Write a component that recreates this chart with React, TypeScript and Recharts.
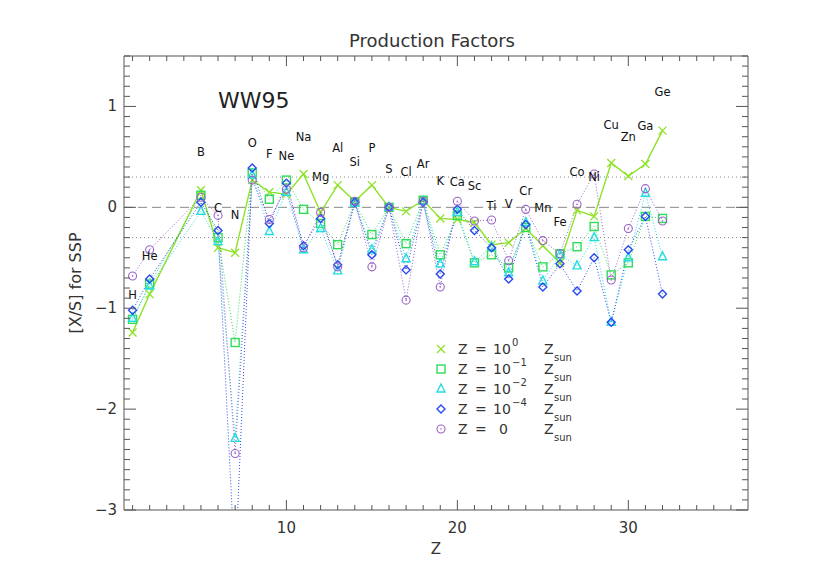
import React from "react";
import { ComposedChart, Line, XAxis, YAxis, ReferenceLine } from "recharts";

// elements shown on the plot
const symbols = ["H", "He", "B", "C", "N", "O", "F", "Ne", "Na", "Mg", "Al", "Si", "P", "S", "Cl", "Ar", "K", "Ca", "Sc", "Ti", "V", "Cr", "Mn", "Fe", "Co", "Ni", "Cu", "Zn", "Ga", "Ge"];
const atomicNumber = [1, 2, 5, 6, 7, 8, 9, 10, 11, 12, 13, 14, 15, 16, 17, 18, 19, 20, 21, 22, 23, 24, 25, 26, 27, 28, 29, 30, 31, 32];
// where each element name sits, in [X/S] units
const labelPos = [-0.87, -0.48, 0.55, -0.01, -0.08, 0.64, 0.53, 0.51, 0.7, 0.3, 0.59, 0.45, 0.59, 0.38, 0.35, 0.43, 0.26, 0.25, 0.21, 0.01, 0.03, 0.16, -0.01, -0.15, 0.35, 0.3, 0.82, 0.7, 0.81, 1.14];

// [X/S] for SSP at each metallicity
const zSolar = [-1.24, -0.86, 0.17, -0.4, -0.45, 0.27, 0.15, 0.13, 0.33, -0.05, 0.22, 0.06, 0.22, 0.0, -0.04, 0.07, -0.11, -0.12, -0.15, -0.37, -0.35, -0.21, -0.38, -0.55, -0.03, -0.09, 0.44, 0.31, 0.43, 0.76];
const zTenth = [-1.11, -0.76, 0.12, -0.3, -1.34, 0.34, 0.08, 0.27, -0.02, -0.16, -0.37, 0.05, -0.27, 0.0, -0.36, 0.07, -0.47, -0.08, -0.55, -0.47, -0.6, -0.2, -0.59, -0.46, -0.39, -0.19, -0.67, -0.55, -0.09, -0.11];
const zHundredth = [-1.1, -0.78, -0.04, -0.34, -2.29, 0.32, -0.24, 0.15, -0.42, -0.21, -0.63, 0.04, -0.42, 0.0, -0.51, 0.06, -0.56, -0.05, -0.54, -0.39, -0.65, -0.15, -0.73, -0.47, -0.58, -0.3, -1.14, -0.5, 0.14, -0.49];
const zTenThousandth = [-1.02, -0.71, 0.05, -0.23, -3.6, 0.39, -0.16, 0.24, -0.38, -0.11, -0.57, 0.05, -0.47, 0.0, -0.62, 0.05, -0.66, -0.02, -0.23, -0.4, -0.71, -0.17, -0.79, -0.56, -0.83, -0.5, -1.14, -0.42, -0.09, -0.86];
const zZero = [-0.68, -0.42, 0.1, -0.08, -2.44, 0.27, -0.12, 0.18, -0.4, -0.05, -0.59, 0.06, -0.59, 0.0, -0.92, 0.06, -0.79, 0.06, -0.135, -0.125, -0.53, -0.02, -0.33, -0.46, 0.03, 0.33, -0.72, -0.21, 0.185, -0.135];

const xMajorTicks = [10, 20, 30];
const xTicks = Array.from({ length: 36 }, (_, i) => i + 1);
const yMajorTicks = [-3, -2, -1, 0, 1];
const yTicks = Array.from({ length: 46 }, (_, i) => Math.round((-3 + i * 0.1) * 10) / 10);

const data = symbols.map((sym, i) => ({
  z: atomicNumber[i],
  sym,
  lab: labelPos[i],
  s1: zSolar[i],
  s2: zTenth[i],
  s3: zHundredth[i],
  s4: zTenThousandth[i],
  s5: zZero[i],
}));

const FONT = "DejaVu Sans, sans-serif";
const AXIS = "#555";
const TEXT = "#333";

const C_LIME = "#8fe22a";
const C_GREEN = "#2fdc5a";
const C_CYAN = "#22dde0";
const C_BLUE = "#2a4af0";
const C_PURPLE = "#9a62c8";

type MarkerKind = "x" | "square" | "triangle" | "diamond" | "circle";

function Marker({ kind, cx, cy, color }: { kind: MarkerKind; cx: number; cy: number; color: string }) {
  const r = 4;
  if (kind === "x")
    return (
      <path d={`M${cx - r},${cy - r}L${cx + r},${cy + r}M${cx - r},${cy + r}L${cx + r},${cy - r}`} stroke={color} strokeWidth={1.3} fill="none" />
    );
  if (kind === "square")
    return <rect x={cx - r} y={cy - r} width={2 * r} height={2 * r} stroke={color} strokeWidth={1.4} fill="none" />;
  if (kind === "triangle")
    return <path d={`M${cx},${cy - r - 1}L${cx + r},${cy + r - 1}L${cx - r},${cy + r - 1}Z`} stroke={color} strokeWidth={1.4} fill="none" />;
  if (kind === "diamond")
    return <path d={`M${cx},${cy - r}L${cx + r},${cy}L${cx},${cy + r}L${cx - r},${cy}Z`} stroke={color} strokeWidth={1.4} fill="none" />;
  return (
    <g>
      <circle cx={cx} cy={cy} r={r} stroke={color} strokeWidth={1.1} fill="none" />
      <circle cx={cx} cy={cy} r={0.8} fill={color} />
    </g>
  );
}

const dotFor = (kind: MarkerKind, color: string) => (p: any) => {
  if (p.cx == null || p.cy == null) return <g key={p.index} />;
  return (
    <g key={p.index}>
      <Marker kind={kind} cx={p.cx} cy={p.cy} color={color} />
    </g>
  );
};

const labelDot = (p: any) => (
  <text key={p.index} x={p.cx} y={p.cy} textAnchor="middle" dominantBaseline="central" fontSize={11.5} fontFamily={FONT} fill="#111">
    {p.payload.sym}
  </text>
);

const BottomTick = (p: any) => {
  const { x, y, payload } = p;
  const major = xMajorTicks.includes(payload.value);
  return (
    <g>
      <line x1={x} x2={x} y1={y} y2={y - (major ? 10 : 5)} stroke={AXIS} />
      {major && (
        <text x={x} y={y + 18} textAnchor="middle" dominantBaseline="central" fontSize={15} fontFamily={FONT} fill={TEXT}>
          {payload.value}
        </text>
      )}
    </g>
  );
};

const TopTick = (p: any) => {
  const { x, y, payload } = p;
  const major = xMajorTicks.includes(payload.value);
  return <line x1={x} x2={x} y1={y} y2={y + (major ? 10 : 5)} stroke={AXIS} />;
};

const LeftTick = (p: any) => {
  const { x, y, payload } = p;
  const major = Number.isInteger(payload.value);
  return (
    <g>
      <line x1={x} x2={x + (major ? 12 : 6)} y1={y} y2={y} stroke={AXIS} />
      {major && (
        <text x={x - 7} y={y} textAnchor="end" dominantBaseline="central" fontSize={15} fontFamily={FONT} fill={TEXT}>
          {payload.value < 0 ? `\u2212${Math.abs(payload.value)}` : payload.value}
        </text>
      )}
    </g>
  );
};

const RightTick = (p: any) => {
  const { x, y, payload } = p;
  const major = Number.isInteger(payload.value);
  return <line x1={x} x2={x - (major ? 12 : 6)} y1={y} y2={y} stroke={AXIS} />;
};

const legendRows: { kind: MarkerKind; color: string; exp: string | null }[] = [
  { kind: "x", color: C_LIME, exp: "0" },
  { kind: "square", color: C_GREEN, exp: "\u22121" },
  { kind: "triangle", color: C_CYAN, exp: "\u22122" },
  { kind: "diamond", color: C_BLUE, exp: "\u22124" },
  { kind: "circle", color: C_PURPLE, exp: null },
];

function Overlay() {
  return (
    <svg width={814} height={551} style={{ position: "absolute", left: 0, top: 0, pointerEvents: "none" }}>
      <text x={424} y={32} textAnchor="middle" dominantBaseline="central" fontSize={18} fontFamily={FONT} fill={TEXT}>
        Production Factors
      </text>
      <text
        x={67}
        y={275}
        transform="rotate(-90 67 275)"
        textAnchor="middle"
        dominantBaseline="central"
        fontSize={16}
        fontFamily={FONT}
        fill={TEXT}
      >
        [X/S] for SSP
      </text>
      <text x={428} y={541} textAnchor="middle" dominantBaseline="central" fontSize={15} fontFamily={FONT} fill={TEXT}>
        Z
      </text>
      <text x={210} y={92} dominantBaseline="central" fontSize={22} fontFamily={FONT} fill="#222">
        WW95
      </text>
      {legendRows.map((row, i) => {
        const y = 341 + i * 20;
        return (
          <g key={i} fontFamily={FONT} fill={TEXT}>
            <Marker kind={row.kind} cx={433} cy={y} color={row.color} />
            <text x={450} y={y} dominantBaseline="central" fontSize={14}>Z</text>
            <text x={467} y={y} dominantBaseline="central" fontSize={14}>=</text>
            {row.exp ? (
              <>
                <text x={485} y={y} dominantBaseline="central" fontSize={14}>10</text>
                <text x={504} y={y - 7} dominantBaseline="central" fontSize={10}>{row.exp}</text>
              </>
            ) : (
              <text x={491} y={y} dominantBaseline="central" fontSize={14}>0</text>
            )}
            <text x={536} y={y} dominantBaseline="central" fontSize={14}>Z</text>
            <text x={546} y={y + 8} dominantBaseline="central" fontSize={10}>sun</text>
          </g>
        );
      })}
    </svg>
  );
}

export default function App() {
  return (
    <div style={{ position: "relative", width: 814, height: 551 }}>
      <ComposedChart width={814} height={551} data={data} margin={{ top: 38, right: 64, bottom: 19, left: 76 }}>
        <XAxis
          xAxisId="b"
          dataKey="z"
          type="number"
          domain={[0.5, 37]}
          ticks={xTicks}
          interval={0}
          allowDataOverflow
          height={30}
          tickSize={0}
          tickMargin={0}
          tickLine={false}
          tick={<BottomTick />}
          axisLine={{ stroke: AXIS }}
        />
        <XAxis
          xAxisId="t"
          orientation="top"
          dataKey="z"
          type="number"
          domain={[0.5, 37]}
          ticks={xTicks}
          interval={0}
          allowDataOverflow
          height={10}
          tickSize={0}
          tickMargin={0}
          tickLine={false}
          tick={<TopTick />}
          axisLine={{ stroke: AXIS }}
        />
        <YAxis
          yAxisId="l"
          type="number"
          domain={[-3, 1.5]}
          ticks={yTicks}
          interval={0}
          allowDataOverflow
          width={40}
          tickSize={0}
          tickMargin={0}
          tickLine={false}
          tick={<LeftTick />}
          axisLine={{ stroke: AXIS }}
        />
        <YAxis
          yAxisId="r"
          orientation="right"
          type="number"
          domain={[-3, 1.5]}
          ticks={yTicks}
          interval={0}
          allowDataOverflow
          width={10}
          tickSize={0}
          tickMargin={0}
          tickLine={false}
          tick={<RightTick />}
          axisLine={{ stroke: AXIS }}
        />
        <ReferenceLine xAxisId="b" yAxisId="l" y={0.3} stroke="#888" strokeDasharray="1 3" />
        <ReferenceLine xAxisId="b" yAxisId="l" y={-0.3} stroke="#888" strokeDasharray="1 3" />
        <ReferenceLine xAxisId="b" yAxisId="l" y={0} stroke="#888" strokeDasharray="9 5" />
        <Line xAxisId="t" yAxisId="r" dataKey="s1" stroke="none" dot={false} isAnimationActive={false} />
        <Line xAxisId="b" yAxisId="l" dataKey="s1" stroke={C_LIME} strokeWidth={1.4} dot={dotFor("x", C_LIME)} isAnimationActive={false} />
        <Line xAxisId="b" yAxisId="l" dataKey="s2" stroke={C_GREEN} strokeWidth={1} strokeDasharray="1 2" dot={dotFor("square", C_GREEN)} isAnimationActive={false} />
        <Line xAxisId="b" yAxisId="l" dataKey="s3" stroke={C_CYAN} strokeWidth={1} strokeDasharray="1 2" dot={dotFor("triangle", C_CYAN)} isAnimationActive={false} />
        <Line xAxisId="b" yAxisId="l" dataKey="s4" stroke={C_BLUE} strokeWidth={1} strokeDasharray="1 2" dot={dotFor("diamond", C_BLUE)} isAnimationActive={false} />
        <Line xAxisId="b" yAxisId="l" dataKey="s5" stroke={C_PURPLE} strokeWidth={1} strokeDasharray="1 2" dot={dotFor("circle", C_PURPLE)} isAnimationActive={false} />
        <Line xAxisId="b" yAxisId="l" dataKey="lab" stroke="none" dot={labelDot} isAnimationActive={false} />
      </ComposedChart>
      <Overlay />
    </div>
  );
}
